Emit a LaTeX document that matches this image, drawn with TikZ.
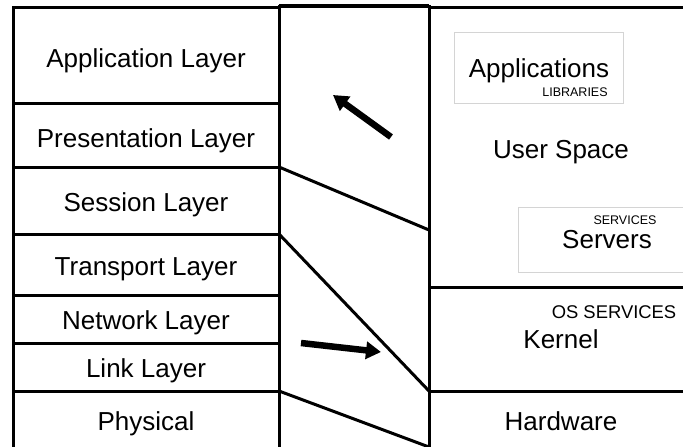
\documentclass[tikz,border=0pt]{standalone}
\usepackage{fontspec}
\setmainfont{Liberation Sans}
\usetikzlibrary{arrows.meta}

\definecolor{framegray}{HTML}{D4D4D4}

\tikzset{
  rule/.style={line width=3pt, black},
  frame/.style={draw=framegray, line width=0.9pt},
  bigtext/.style={anchor=base, inner sep=0pt, font=\fontsize{26}{30}\selectfont},
  midtext/.style={anchor=base, inner sep=0pt, font=\fontsize{18.4}{22}\selectfont},
  smalltext/.style={anchor=base, inner sep=0pt, font=\fontsize{12.5}{15}\selectfont},
  flowarrow/.style={line width=6.5pt, -{Triangle[length=15pt,width=17pt]}},
}

\begin{document}
\begin{tikzpicture}[x=1pt, y=-1pt]
  \useasboundingbox (0,0) rectangle (683,447);
  \clip (0,0) rectangle (683,447);

  % light frames around the user-space items
  \draw[frame] (454,32) rectangle (623,103);
  \draw[frame] (518,207) rectangle (700,272);

  % OSI stack (left column)
  \draw[rule] (13,460) -- (13,7.3) -- (279,7.3);
  \draw[rule, line width=3.8pt] (279,6) -- (429,6);
  \draw[rule] (279,5) -- (279,460);
  \foreach \yy in {103,167,234,295,343,391}
    \draw[rule] (13,\yy) -- (279,\yy);

  % mapping column
  \draw[rule] (429,5) -- (429,460);
  \draw[rule] (279,167) -- (429,230);
  \draw[rule] (279,234) -- (429,391);
  \draw[rule] (279,391) -- (429,447);

  % OS stack (right column)
  \draw[rule] (429,7.3) -- (690,7.3);
  \draw[rule] (429,287) -- (690,287);
  \draw[rule] (429,391) -- (690,391);

  % layer names
  \node[bigtext] (app)  at (146,67)  {Application Layer};
  \node[bigtext] (pres) at (146,147) {Presentation Layer};
  \node[bigtext] (sess) at (146,211) {Session Layer};
  \node[bigtext] (trans) at (146,275) {Transport Layer};
  \node[bigtext] (net)  at (146,329) {Network Layer};
  \node[bigtext] (link) at (146,377) {Link Layer};
  \node[bigtext] (phys) at (146,430) {Physical};

  % OS parts
  \node[bigtext]   (apps)    at (539,77)  {Applications};
  \node[smalltext] (libs)    at (575,96)  {LIBRARIES};
  \node[bigtext]   (user)    at (561,158) {User Space};
  \node[smalltext] (svc)     at (625,224) {SERVICES};
  \node[bigtext]   (servers) at (607,248) {Servers};
  \node[midtext]   (ossvc)   at (614,318) {OS SERVICES};
  \node[bigtext]   (kernel)  at (561,348) {Kernel};
  \node[bigtext]   (hw)      at (561,430) {Hardware};

  % direction arrows
  \coordinate (upTail)   at (391,137);
  \coordinate (upTip)    at (333,95);
  \coordinate (downTail) at (301,343);
  \coordinate (downTip)  at (381,352);
  \draw[flowarrow] (upTail) -- (upTip);
  \draw[flowarrow] (downTail) -- (downTip);
\end{tikzpicture}
\end{document}
